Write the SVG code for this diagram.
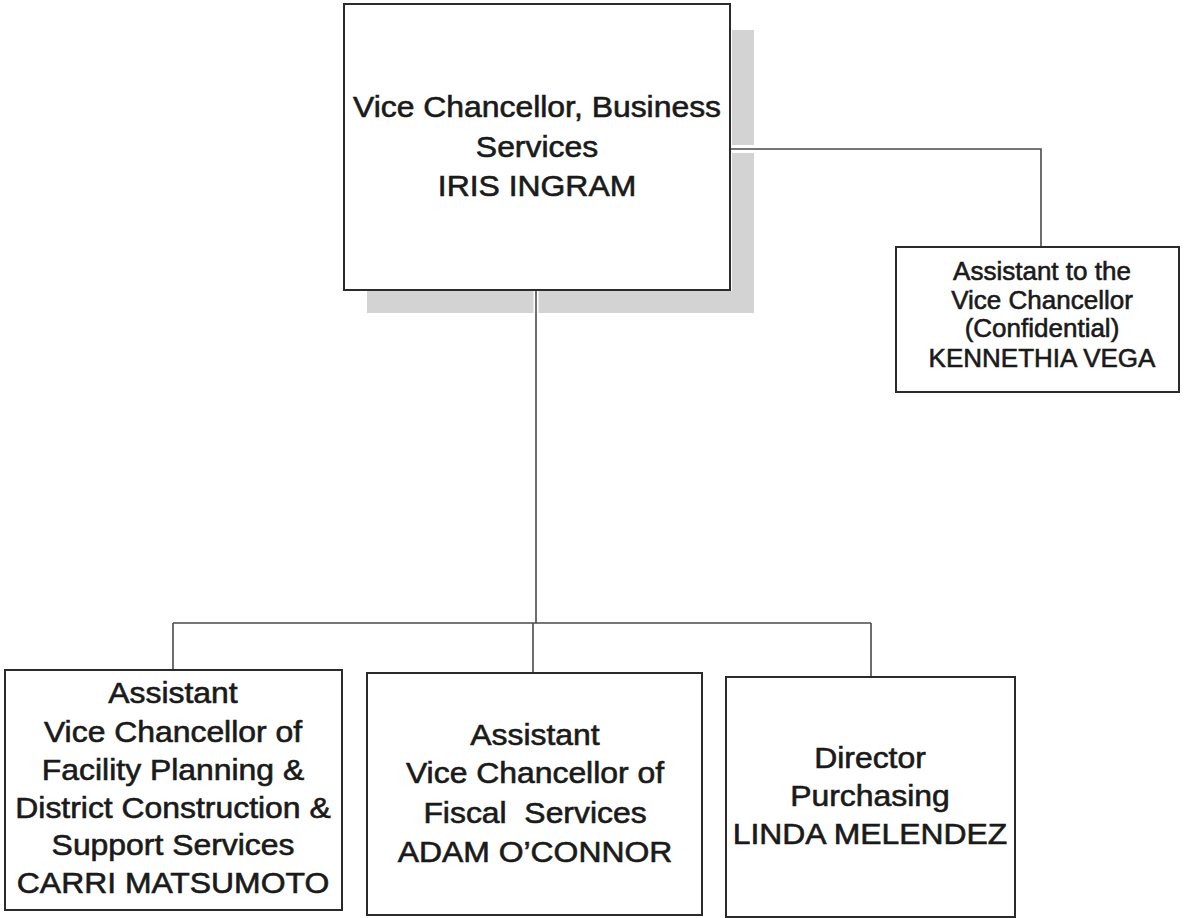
<svg xmlns="http://www.w3.org/2000/svg" width="1185" height="918" viewBox="0 0 1185 918">
  <style>
    .box { fill: #ffffff; stroke: #2b2b2b; stroke-width: 2; }
    .shadow { fill: #d3d3d3; }
    .link { fill: none; stroke: #4a4a4a; stroke-width: 1.6; }
    .halo { fill: none; stroke: #ffffff; }
    .lbl { font-family: "Liberation Sans", Arial, sans-serif; font-size: 29px; fill: #1a1a1a; stroke: #1a1a1a; stroke-width: 0.6; text-anchor: middle; }
    .sm { font-family: "Liberation Sans", Arial, sans-serif; font-size: 26px; fill: #1a1a1a; stroke: #1a1a1a; stroke-width: 0.6; text-anchor: middle; }
  </style>
  <rect width="1185" height="918" fill="#ffffff"/>

  <!-- drop shadow behind the head box -->
  <path class="shadow" d="M367 291 H732 V30 H754 V313 H367 Z"/>

  <g id="connectors">
    <path class="halo" stroke-width="8" d="M731 149 H760"/>
    <path class="halo" stroke-width="5" d="M536 291 V316"/>
    <path class="link" d="M730 149 H1041 V247"/>
    <path class="link" d="M536 290 V623"/>
    <path class="link" d="M173 623 H871"/>
    <path class="link" d="M173 623 V670 M533 623 V673 M871 623 V677"/>
  </g>

  <g id="vc-business">
    <rect class="box" x="344" y="4" width="386" height="286"/>
    <g transform="translate(537 0) scale(1.1 1)">
      <text class="lbl" x="0" y="117">Vice Chancellor, Business</text>
      <text class="lbl" x="0" y="157">Services</text>
      <text class="lbl" x="0" y="196">IRIS INGRAM</text>
    </g>
  </g>

  <g id="assistant-vc">
    <rect class="box" x="896" y="247" width="283" height="145"/>
    <text class="sm" x="1042" y="280">Assistant to the</text>
    <text class="sm" x="1042" y="309">Vice Chancellor</text>
    <text class="sm" x="1042" y="337">(Confidential)</text>
    <text class="sm" x="1042" y="367">KENNETHIA VEGA</text>
  </g>

  <g id="avc-facilities">
    <rect class="box" x="5" y="670" width="337" height="240"/>
    <g transform="translate(173 0) scale(1.1 1)">
      <text class="lbl" x="0" y="703">Assistant</text>
      <text class="lbl" x="0" y="742">Vice Chancellor of</text>
      <text class="lbl" x="0" y="780">Facility Planning &amp;</text>
      <text class="lbl" x="0" y="818">District Construction &amp;</text>
      <text class="lbl" x="0" y="855">Support Services</text>
      <text class="lbl" x="0" y="893">CARRI MATSUMOTO</text>
    </g>
  </g>

  <g id="avc-fiscal">
    <rect class="box" x="367" y="673" width="335" height="242"/>
    <g transform="translate(535 0) scale(1.1 1)">
      <text class="lbl" x="0" y="745">Assistant</text>
      <text class="lbl" x="0" y="783">Vice Chancellor of</text>
      <text class="lbl" x="0" y="823" xml:space="preserve">Fiscal  Services</text>
      <text class="lbl" x="0" y="862">ADAM O’CONNOR</text>
    </g>
  </g>

  <g id="director-purchasing">
    <rect class="box" x="726" y="677" width="289" height="240"/>
    <g transform="translate(870 0) scale(1.1 1)">
      <text class="lbl" x="0" y="768">Director</text>
      <text class="lbl" x="0" y="806">Purchasing</text>
      <text class="lbl" x="0" y="844">LINDA MELENDEZ</text>
    </g>
  </g>
</svg>
